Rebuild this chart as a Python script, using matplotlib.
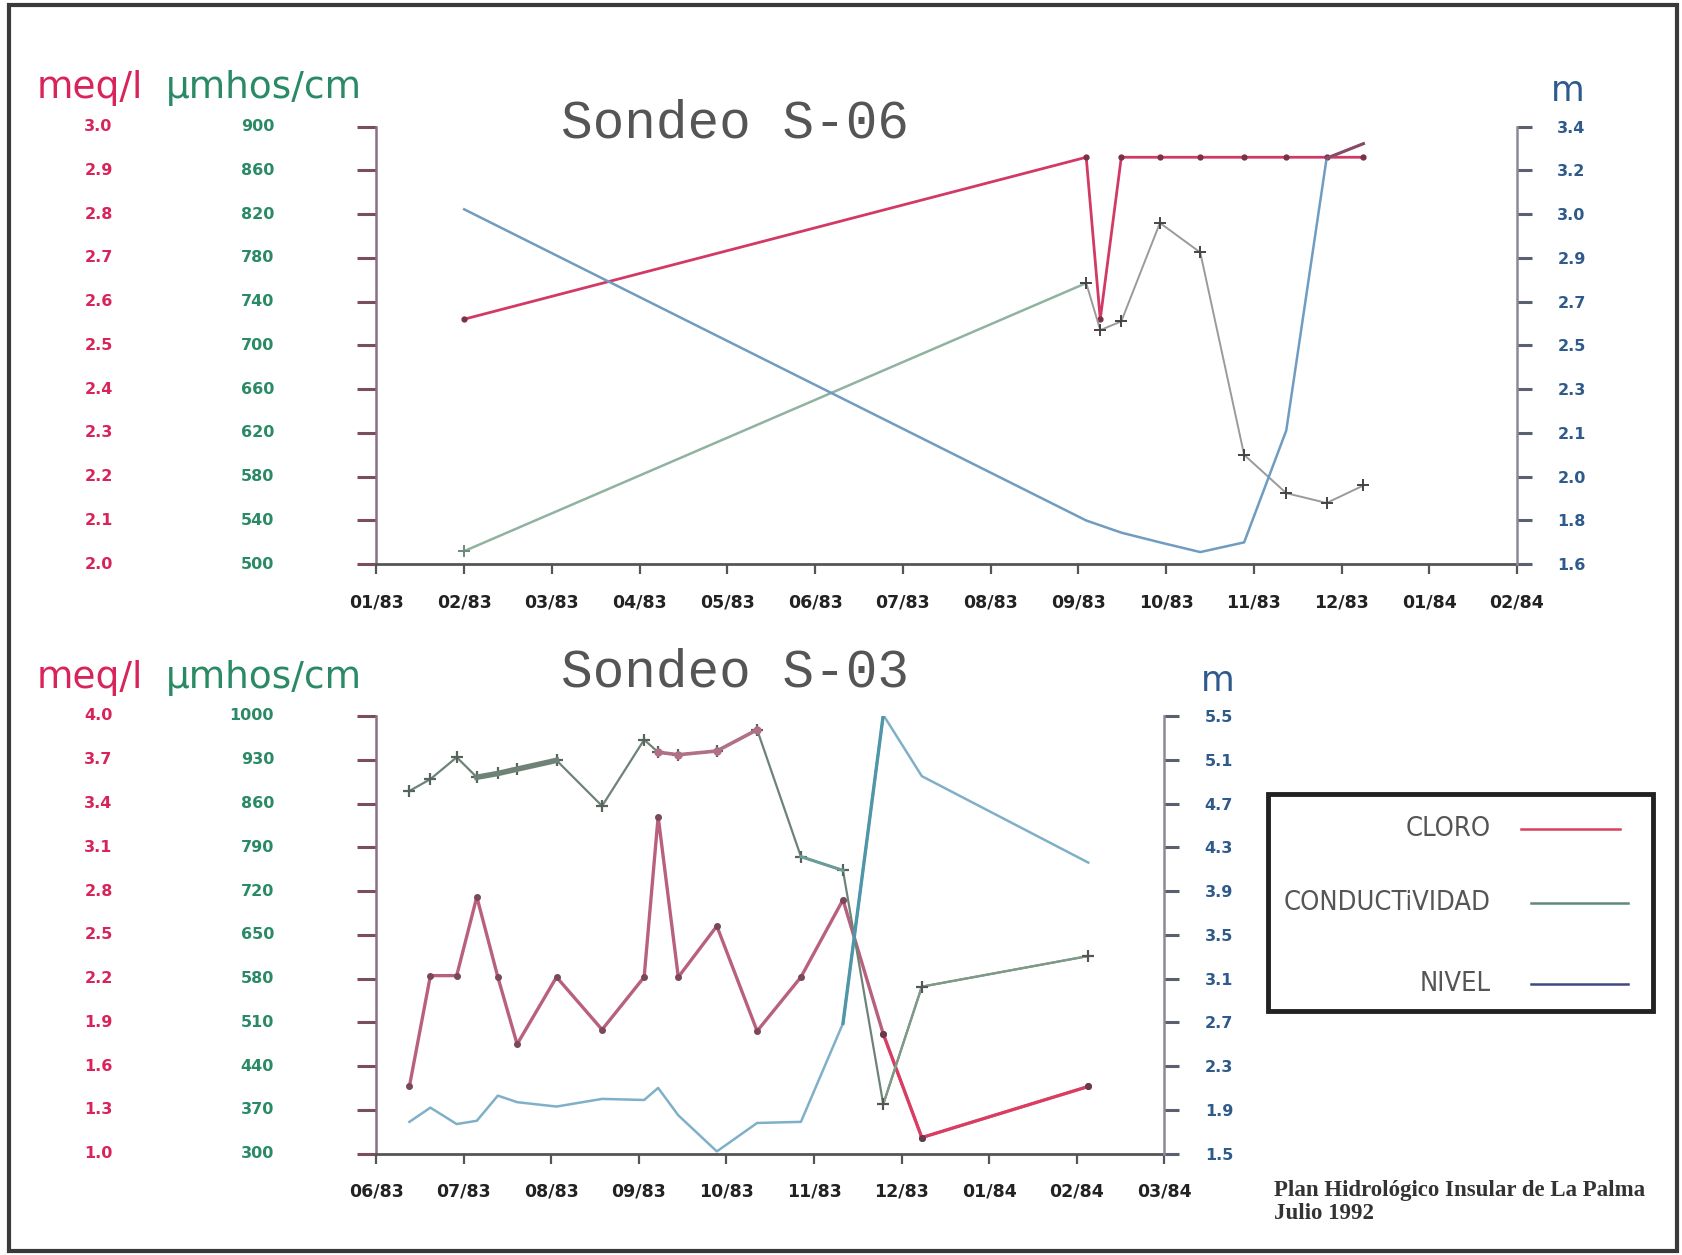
import numpy as np
import matplotlib.pyplot as plt
import matplotlib.transforms as mtransforms
from matplotlib.patches import Rectangle
from matplotlib.lines import Line2D

# Sondeo S-06, fechas en meses contados desde 01/83
s06_mes = [1.0, 8.09, 8.25, 8.49, 8.93, 9.39, 9.89, 10.37, 10.83, 11.25]
s06_cloro = [2.56, 2.93, 2.56, 2.93, 2.93, 2.93, 2.93, 2.93, 2.93, 2.93]
s06_cond = [512, 757, 714, 722, 812, 785, 600, 565, 556, 572]
s06_nivel = [3.06, 1.78, 1.76, 1.73, 1.69, 1.65, 1.69, 2.15, 3.27, 3.33]
s06_fechas = ['01/83', '02/83', '03/83', '04/83', '05/83', '06/83', '07/83',
              '08/83', '09/83', '10/83', '11/83', '12/83', '01/84', '02/84']

# Sondeo S-03, fechas en meses contados desde 06/83
s03_mes = [0.38, 0.62, 0.92, 1.15, 1.39, 1.61, 2.06, 2.58, 3.06, 3.22, 3.45,
           3.89, 4.35, 4.85, 5.33, 5.79, 6.23, 8.13]
s03_cloro = [1.46, 2.22, 2.22, 2.76, 2.21, 1.75, 2.21, 1.85, 2.21, 3.31, 2.21,
             2.56, 1.84, 2.21, 2.74, 1.82, 1.11, 1.46]
s03_cond = [880, 899, 934, 902, 908, 915, 929, 856, 962, 942, 938, 944, 978,
            775, 753, 379, 567, 616]
s03_nivel = [1.79, 1.92, 1.77, 1.80, 2.03, 1.97, 1.93, 2.00, 1.99, 2.10, 1.85,
             1.52, 1.78, 1.79, 2.69, 5.51, 4.95, 4.16]
s03_fechas = ['06/83', '07/83', '08/83', '09/83', '10/83', '11/83', '12/83',
              '01/84', '02/84', '03/84']

ROJO = '#d8245a'
VERDE = '#2a8a66'
AZUL = '#2f5a8c'
TICKFONT = dict(family='DejaVu Sans', weight='bold', size=11.5)

fig = plt.figure(figsize=(16.82, 12.55), dpi=100)


def sondeo(rect, titulo, titulo_y, unidades_y, m_xy, fechas,
           cloro_lim, cond_lim, nivel_lim):
    ax = fig.add_axes(rect)
    ax_c = ax.twinx()
    ax_n = ax.twinx()
    ax.set_xlim(0, len(fechas) - 1)
    ax.set_ylim(*cloro_lim)
    ax_c.set_ylim(*cond_lim)
    ax_n.set_ylim(*nivel_lim)

    for a in (ax, ax_c, ax_n):
        for s in a.spines.values():
            s.set_visible(False)
    ax_c.set_yticks([])

    # eje izquierdo (cloro / conductividad)
    ax.spines['left'].set_visible(True)
    ax.spines['left'].set_color('#8a7080')
    ax.spines['left'].set_linewidth(1.8)
    ct = np.linspace(*cloro_lim, 11)
    ax.set_yticks(ct)
    ax.tick_params(axis='y', length=14, width=2.2, color='#7a4d60',
                   labelleft=False)
    tr_cl = mtransforms.blended_transform_factory(fig.transFigure, ax.transData)
    for v in ct:
        ax.text(0.067, v, f'{v:.1f}', transform=tr_cl, ha='right',
                va='center', color=ROJO, **TICKFONT)
    tr_co = mtransforms.blended_transform_factory(fig.transFigure, ax_c.transData)
    for v in np.linspace(*cond_lim, 11):
        ax_c.text(0.163, v, f'{v:.0f}', transform=tr_co, ha='right',
                  va='center', color=VERDE, **TICKFONT)

    # eje de fechas
    ax.spines['bottom'].set_visible(True)
    ax.spines['bottom'].set_color('#555555')
    ax.spines['bottom'].set_linewidth(2)
    ax.set_xticks(range(len(fechas)), fechas)
    ax.tick_params(axis='x', length=7, width=1.6, color='#555555', pad=14,
                   labelcolor='#222222', labelsize=12.5)
    for lb in ax.get_xticklabels():
        lb.set_fontweight('bold')

    # eje derecho (nivel)
    ax_n.spines['right'].set_visible(True)
    ax_n.spines['right'].set_color('#8a8a96')
    ax_n.spines['right'].set_linewidth(1.8)
    nt = np.linspace(*nivel_lim, 11)
    ax_n.set_yticks(nt, [f'{v:.1f}' for v in nt])
    ax_n.tick_params(axis='y', length=11, width=2.2, color='#5a6070', pad=18,
                     labelcolor=AZUL, labelsize=11.5)
    for lb in ax_n.get_yticklabels():
        lb.set_fontweight('bold')

    fig.text(0.4369, titulo_y, titulo, family='Liberation Mono',
             size=38, color='#555555', ha='center', va='center')
    fig.text(0.022, unidades_y, 'meq/l', color=ROJO, size=27, va='center')
    fig.text(0.0985, unidades_y, 'μmhos/cm', color=VERDE, size=27,
             va='center')
    fig.text(m_xy[0], m_xy[1], 'm', color=AZUL, size=25, ha='center',
             va='center')
    return ax, ax_c, ax_n


# ---- Sondeo S-06 ----
ax, ax_c, ax_n = sondeo([0.2238, 0.5504, 0.6781, 0.3487], 'Sondeo S-06',
                        0.9017, 0.930, (0.9323, 0.9275),
                        s06_fechas, (2.0, 3.0), (500, 900), (1.6, 3.4))
ax_n.plot(s06_mes, s06_nivel, color='#6f9cc0', lw=1.8, zorder=2)
ax_n.plot(s06_mes[-2:], s06_nivel[-2:], color='#8a4a66', lw=2.2, zorder=2)
ax_c.plot(s06_mes[:2], s06_cond[:2], color='#8fb3a0', lw=1.8)
ax_c.plot(s06_mes[1:], s06_cond[1:], color='#9a9a9a', lw=1.4,
          marker='+', ms=9, mew=1.4, mec='#444444')
ax_c.plot(s06_mes[0], s06_cond[0], marker='+', ms=9, mew=1.4, mec='#6a8a7a')
ax.plot(s06_mes, s06_cloro, color='#d23a66', lw=2.0, marker='o', ms=3.5,
        mfc='#7a3048', mec='#7a3048', zorder=5)

# ---- Sondeo S-03 ----
ax, ax_c, ax_n = sondeo([0.2236, 0.0808, 0.4687, 0.3487], 'Sondeo S-03',
                        0.4641, 0.4598, (0.7238, 0.4574),
                        s03_fechas, (1.0, 4.0), (300, 1000), (1.5, 5.5))
ax_n.plot(s03_mes, s03_nivel, color='#7fb0c8', lw=1.8)
ax_n.plot(s03_mes[14:16], s03_nivel[14:16], color='#4f96a8', lw=2.4)
ax_c.plot(s03_mes, s03_cond, color='#6f8278', lw=1.6,
          marker='+', ms=9, mew=1.6, mec='#55655c')
ax_c.plot(s03_mes[3:7], s03_cond[3:7], color='#6f8278', lw=4)
ax_c.plot(s03_mes[9:13], s03_cond[9:13], color='#b07088', lw=2.6,
          marker='o', ms=5, mfc='#b07088', mec='#b07088')
ax_c.plot(s03_mes[13:15], s03_cond[13:15], color='#6a9c98', lw=2.2)
ax_c.plot(s03_mes[15:], s03_cond[15:], color='#7f9a88', lw=1.6,
          marker='+', ms=9, mew=1.4, mec='#555555')
ax.plot(s03_mes, s03_cloro, color='#b8607e', lw=2.4, marker='o', ms=4,
        mfc='#7a4858', mec='#7a4858', zorder=5)
ax.plot(s03_mes[15:], s03_cloro[15:], color='#e03a60', lw=2.0, marker='o',
        ms=4, mfc='#6a3a48', mec='#6a3a48', zorder=6)

# ---- leyenda ----
fig.add_artist(Rectangle((0.7539, 0.1948), 0.2289, 0.1725,
                         transform=fig.transFigure, fill=False, lw=3.5,
                         ec='#222222'))
leyenda = [('CLORO', 0.3394, '#d9405a', 0.9043, 0.9631),
           ('CONDUCTiVIDAD', 0.2804, '#5e8a78', 0.9101, 0.9681),
           ('NIVEL', 0.2162, '#404a80', 0.9101, 0.9681)]
for texto, y, col, x0, x1 in leyenda:
    fig.text(0.8865, y, texto, ha='right', va='center', size=19.5,
             family='DejaVu Sans', stretch='condensed', weight='light',
             color='#555555')
    fig.add_artist(Line2D([x0, x1], [y, y], transform=fig.transFigure,
                          color=col, lw=1.8))

fig.text(0.7576, 0.042, 'Plan Hidrológico Insular de La Palma\nJulio 1992',
         family='Liberation Serif', weight='bold', size=16.5,
         color='#333333', va='center', ha='left', linespacing=1.15)

# marco
fig.add_artist(Rectangle((0.0051, 0.0033), 0.9917, 0.9924,
                         transform=fig.transFigure, fill=False, lw=3,
                         ec='#3a3a3a'))

fig.savefig('out.png', dpi=100)
